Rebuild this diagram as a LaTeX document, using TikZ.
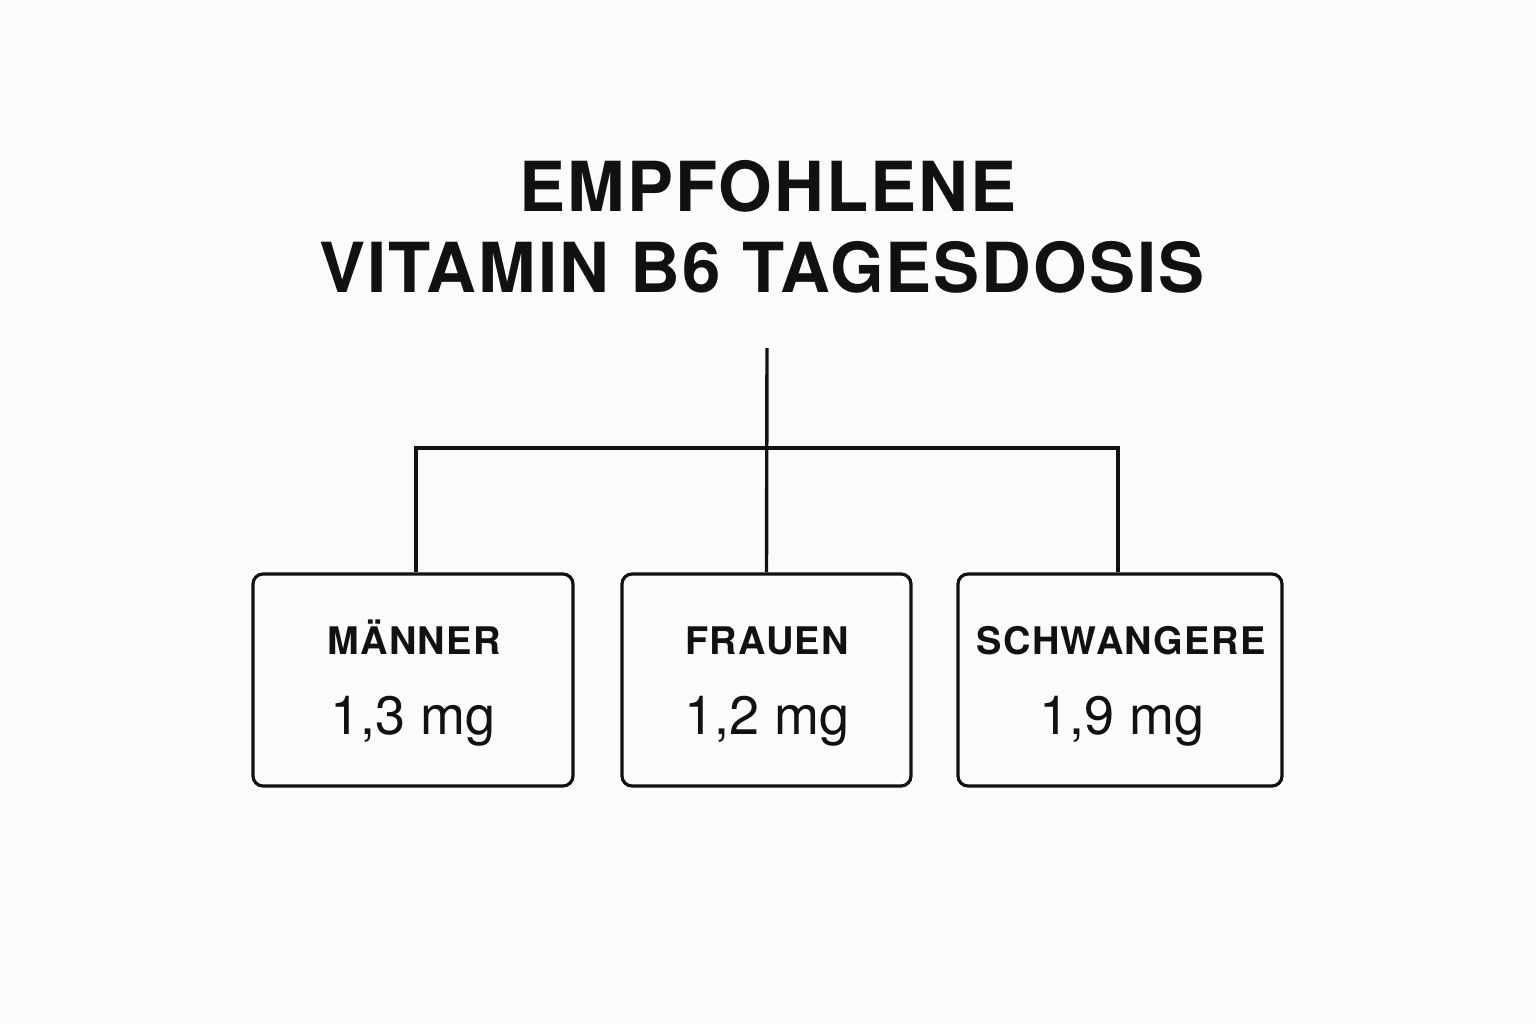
\documentclass[tikz,border=0pt]{standalone}
\usepackage{fontspec}
\setmainfont{TeX Gyre Heros}
\newfontfamily\titlefont[LetterSpace=3]{TeX Gyre Heros}
\newfontfamily\labelfont[LetterSpace=3.5]{TeX Gyre Heros}
\usetikzlibrary{positioning}
\definecolor{ink}{HTML}{111111}
\definecolor{paper}{HTML}{FBFBFA}
\tikzset{
  group/.style={draw=ink, line width=1.6pt, rounded corners=5pt, minimum height=106pt, inner sep=0pt},
  heading/.style={anchor=base, text=ink, font=\titlefont\bfseries\fontsize{34.5pt}{40pt}\selectfont},
  grouplabel/.style={anchor=base, text=ink, font=\labelfont\bfseries\fontsize{19pt}{19pt}\selectfont},
  groupvalue/.style={anchor=base, text=ink, font=\fontsize{27pt}{27pt}\selectfont},
  link/.style={draw=ink, line width=1.7pt}
}
\begin{document}
\begin{tikzpicture}[x=0.5pt, y=-0.5pt]
\fill[paper] (0,0) rectangle (1536,1024);
\useasboundingbox (0,0) rectangle (1536,1024);

\node[heading] (head) at (768,211) {EMPFOHLENE};
\node[heading] (subhead) at (762,292) {VITAMIN B6 TAGESDOSIS};

\node[group, minimum width=160pt] (maenner) at (413,680) {};
\node[group, minimum width=144.5pt] (frauen) at (766.5,680) {};
\node[group, minimum width=162pt] (schwanger) at (1120,680) {};

\node[grouplabel] (maennerlabel) at (414,654) {MÄNNER};
\node[groupvalue] (maennervalue) at (413,734) {1,3 mg};
\node[grouplabel] (frauenlabel) at (767,654) {FRAUEN};
\node[groupvalue] (frauenvalue) at (767,734) {1,2 mg};
\node[grouplabel] (schwangerlabel) at (1121,654) {SCHWANGERE};
\node[groupvalue] (schwangervalue) at (1122,734) {1,9 mg};

\coordinate (stem) at (767,348);
\coordinate (split) at (767,448);
\draw[link] (stem) -- (frauen.north);
\draw[link] ([xshift=1.5pt]maenner.north) |- (split) -| ([xshift=-1pt]schwanger.north);
\end{tikzpicture}
\end{document}
